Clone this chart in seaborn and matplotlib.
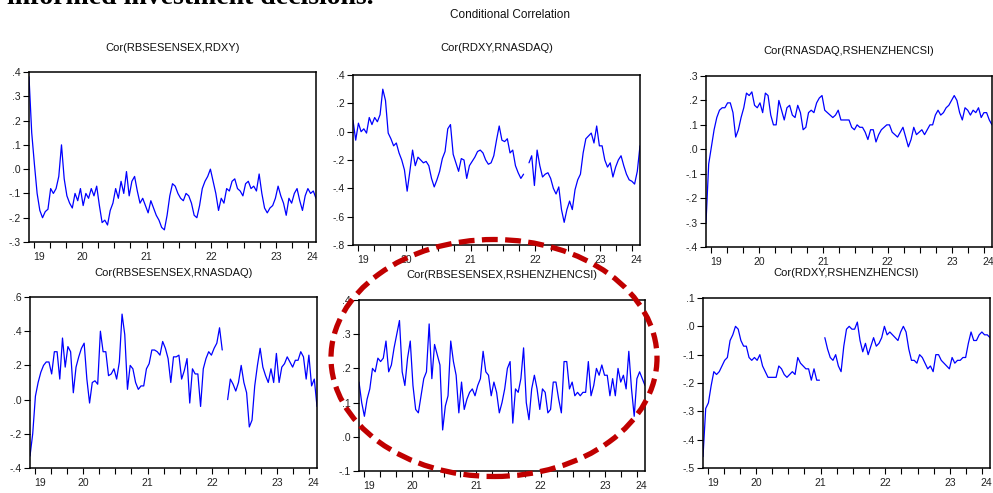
import numpy as np
import pandas as pd
import matplotlib
matplotlib.use("Agg")
import matplotlib.pyplot as plt
import seaborn as sns
from matplotlib.patches import Ellipse

# ---------------- data ----------------
X_START, X_END = 2019.68, 2024.12
N_OBS = 107

titles = ["Cor(RBSESENSEX,RDXY)", "Cor(RDXY,RNASDAQ)", "Cor(RNASDAQ,RSHENZHENCSI)",
          "Cor(RBSESENSEX,RNASDAQ)", "Cor(RBSESENSEX,RSHENZHENCSI)", "Cor(RDXY,RSHENZHENCSI)"]

cor_bse_dxy = [0.38, 0.15, 0.02, -0.10, -0.17, -0.20, -0.175, -0.165, -0.08, -0.10,
               -0.08, -0.03, 0.10, -0.04, -0.11, -0.14, -0.16, -0.10, -0.13, -0.08,
               -0.15, -0.10, -0.12, -0.08, -0.11, -0.07, -0.15, -0.22, -0.21, -0.23,
               -0.17, -0.14, -0.08, -0.12, -0.05, -0.10, -0.01, -0.11, -0.05, -0.03,
               -0.09, -0.14, -0.12, -0.15, -0.18, -0.13, -0.16, -0.19, -0.21, -0.24,
               -0.25, -0.19, -0.11, -0.06, -0.07, -0.10, -0.12, -0.13, -0.10, -0.11,
               -0.14, -0.19, -0.20, -0.15, -0.08, -0.05, -0.03, 0.00, -0.05, -0.10,
               -0.17, -0.12, -0.14, -0.08, -0.09, -0.05, -0.04, -0.08, -0.09, -0.11,
               -0.06, -0.05, -0.08, -0.07, -0.09, -0.02, -0.10, -0.16, -0.18, -0.16,
               -0.15, -0.12, -0.07, -0.11, -0.14, -0.19, -0.12, -0.14, -0.10, -0.08,
               -0.13, -0.17, -0.11, -0.08, -0.10, -0.09, -0.12]

cor_dxy_nasdaq = [0.08, -0.06, 0.06, 0.00, 0.02, -0.01, 0.10, 0.05, 0.10, 0.07,
                  0.12, 0.30, 0.22, -0.01, -0.05, -0.10, -0.08, -0.15, -0.20, -0.27,
                  -0.42, -0.28, -0.13, -0.24, -0.18, -0.20, -0.22, -0.21, -0.24, -0.33,
                  -0.39, -0.34, -0.28, -0.19, -0.14, 0.02, 0.05, -0.16, -0.22, -0.28,
                  -0.19, -0.20, -0.33, -0.24, -0.21, -0.18, -0.14, -0.13, -0.15, -0.20,
                  -0.23, -0.22, -0.17, -0.06, 0.04, -0.06, -0.07, -0.05, -0.15, -0.13,
                  -0.24, -0.29, -0.33, -0.30, np.nan, -0.22, -0.17, -0.38, -0.13, -0.24,
                  -0.32, -0.30, -0.29, -0.33, -0.40, -0.44, -0.39, -0.55, -0.64, -0.55,
                  -0.49, -0.55, -0.41, -0.34, -0.30, -0.15, -0.05, -0.03, -0.01, -0.08,
                  0.04, -0.10, -0.10, -0.20, -0.25, -0.22, -0.32, -0.25, -0.20, -0.17,
                  -0.24, -0.30, -0.34, -0.35, -0.37, -0.28, -0.10]

cor_nasdaq_szcsi = [-0.30, -0.06, 0.01, 0.08, 0.13, 0.16, 0.17, 0.17, 0.19, 0.19,
                    0.15, 0.05, 0.08, 0.13, 0.17, 0.23, 0.22, 0.235, 0.18, 0.17,
                    0.19, 0.15, 0.23, 0.22, 0.14, 0.10, 0.10, 0.20, 0.16, 0.12,
                    0.17, 0.18, 0.14, 0.13, 0.18, 0.15, 0.08, 0.09, 0.15, 0.16,
                    0.15, 0.19, 0.21, 0.22, 0.16, 0.15, 0.14, 0.13, 0.14, 0.16,
                    0.12, 0.12, 0.12, 0.12, 0.09, 0.08, 0.10, 0.09, 0.09, 0.07,
                    0.04, 0.08, 0.08, 0.03, 0.06, 0.08, 0.09, 0.10, 0.10, 0.07,
                    0.06, 0.05, 0.07, 0.09, 0.05, 0.01, 0.04, 0.09, 0.06, 0.07,
                    0.08, 0.06, 0.08, 0.10, 0.10, 0.14, 0.16, 0.14, 0.15, 0.17,
                    0.18, 0.20, 0.22, 0.20, 0.15, 0.12, 0.17, 0.16, 0.14, 0.16,
                    0.15, 0.17, 0.13, 0.15, 0.15, 0.12, 0.10]

cor_bse_nasdaq = [-0.33, -0.20, 0.02, 0.10, 0.16, 0.20, 0.22, 0.22, 0.15, 0.28,
                  0.28, 0.12, 0.36, 0.19, 0.31, 0.28, 0.04, 0.19, 0.25, 0.30,
                  0.33, 0.12, -0.02, 0.10, 0.11, 0.09, 0.40, 0.28, 0.28, 0.14,
                  0.15, 0.18, 0.12, 0.22, 0.50, 0.38, 0.06, 0.20, 0.18, 0.10,
                  0.06, 0.08, 0.08, 0.18, 0.21, 0.29, 0.29, 0.28, 0.26, 0.34,
                  0.30, 0.24, 0.10, 0.25, 0.25, 0.26, 0.12, 0.17, 0.24, -0.02,
                  0.18, 0.15, 0.15, -0.04, 0.18, 0.24, 0.28, 0.26, 0.30, 0.33,
                  0.42, 0.29, np.nan, 0.00, 0.12, 0.09, 0.05, 0.10, 0.20, 0.10,
                  0.04, -0.16, -0.12, 0.08, 0.20, 0.30, 0.19, 0.14, 0.10, 0.18,
                  0.10, 0.27, 0.10, 0.19, 0.21, 0.25, 0.22, 0.19, 0.23, 0.23,
                  0.28, 0.25, 0.12, 0.26, 0.08, 0.12, -0.04]

cor_bse_szcsi = [0.16, 0.10, 0.06, 0.11, 0.14, 0.20, 0.19, 0.23, 0.22, 0.23,
                 0.28, 0.19, 0.21, 0.26, 0.30, 0.34, 0.19, 0.15, 0.23, 0.28,
                 0.15, 0.08, 0.07, 0.12, 0.17, 0.19, 0.33, 0.17, 0.27, 0.24,
                 0.21, 0.02, 0.09, 0.12, 0.28, 0.22, 0.18, 0.07, 0.16, 0.08,
                 0.11, 0.13, 0.14, 0.12, 0.15, 0.17, 0.25, 0.19, 0.18, 0.12,
                 0.16, 0.13, 0.07, 0.10, 0.14, 0.20, 0.22, 0.04, 0.14, 0.13,
                 0.17, 0.26, 0.10, 0.05, 0.14, 0.18, 0.14, 0.08, 0.14, 0.13,
                 0.07, 0.08, 0.16, 0.16, 0.11, 0.07, 0.22, 0.22, 0.14, 0.16,
                 0.12, 0.13, 0.12, 0.13, 0.13, 0.22, 0.12, 0.15, 0.20, 0.18,
                 0.21, 0.18, 0.18, 0.12, 0.17, 0.12, 0.20, 0.16, 0.18, 0.14,
                 0.25, 0.14, 0.06, 0.17, 0.19, 0.17, 0.15]

cor_dxy_szcsi = [-0.46, -0.29, -0.27, -0.21, -0.16, -0.17, -0.16, -0.14, -0.12, -0.11,
                 -0.05, -0.03, 0.00, -0.01, -0.05, -0.07, -0.07, -0.11, -0.12, -0.11,
                 -0.12, -0.10, -0.14, -0.16, -0.18, -0.18, -0.18, -0.18, -0.14, -0.15,
                 -0.17, -0.18, -0.17, -0.16, -0.17, -0.11, -0.13, -0.14, -0.15, -0.15,
                 -0.19, -0.15, -0.19, -0.19, np.nan, -0.04, -0.08, -0.11, -0.12, -0.10,
                 -0.14, -0.16, -0.07, -0.01, 0.00, -0.01, -0.01, 0.015, -0.05, -0.09,
                 -0.06, -0.10, -0.07, -0.04, -0.07, -0.06, -0.04, 0.00, -0.03, -0.02,
                 -0.03, -0.04, -0.05, -0.02, 0.00, -0.02, -0.08, -0.12, -0.12, -0.13,
                 -0.10, -0.11, -0.13, -0.15, -0.14, -0.16, -0.10, -0.10, -0.12, -0.13,
                 -0.14, -0.15, -0.11, -0.13, -0.12, -0.12, -0.11, -0.11, -0.06, -0.02,
                 -0.05, -0.05, -0.03, -0.02, -0.03, -0.03, -0.04]

series = [cor_bse_dxy, cor_dxy_nasdaq, cor_nasdaq_szcsi,
          cor_bse_nasdaq, cor_bse_szcsi, cor_dxy_szcsi]

y_limits = [(-0.3, 0.4), (-0.8, 0.4), (-0.4, 0.3), (-0.4, 0.6), (-0.1, 0.4), (-0.5, 0.1)]
y_steps = [0.1, 0.2, 0.1, 0.2, 0.1, 0.1]

year_labels = ["19", "20", "21", "22", "23", "24"]

# ---------------- layout (pixels, from top-left) ----------------
W, H = 993, 493
boxes = [(29, 72, 316, 242), (353, 75, 640, 245), (706, 76, 992, 247),
         (30, 297, 317, 468), (359, 300, 645, 471), (703, 298, 990, 468)]
title_y = [48, 48, 51, 273, 275, 273]

sns.set_theme(style="white")
plt.rcParams["font.family"] = ["Liberation Sans", "DejaVu Sans"]

fig = plt.figure(figsize=(W / 100, H / 100), dpi=100)
fig.patch.set_facecolor("white")

dates = np.linspace(X_START, X_END, N_OBS)
quarters = np.arange(2019.75, 2024.01, 0.25)
label_pos = [(X_START + 2020) / 2, 2020.5, 2021.5, 2022.5, 2023.5, (2024 + X_END) / 2]


def fmt(v):
    s = f"{v:.1f}"
    if s.startswith("-0."):
        return "-" + s[2:]
    if s.startswith("0."):
        return s[1:]
    return s


for k, (vals, (l, t, r, b)) in enumerate(zip(series, boxes)):
    ax = fig.add_axes([l / W, 1 - b / H, (r - l) / W, (b - t) / H])
    df = pd.DataFrame({"date": dates, "value": vals})
    df["seg"] = df["value"].isna().cumsum()
    df = df.dropna()
    sns.lineplot(data=df, x="date", y="value", units="seg", estimator=None,
                 color="#0000FF", linewidth=0.9, ax=ax)
    ax.set_xlim(X_START, X_END)
    lo, hi = y_limits[k]
    ax.set_ylim(lo, hi)
    yt = np.round(np.arange(lo, hi + 1e-9, y_steps[k]), 2) + 0.0
    ax.set_yticks(yt)
    ax.set_yticklabels([fmt(abs(v) if abs(v) < 1e-9 else v) for v in yt])
    ax.xaxis.remove_overlapping_locs = False
    ax.set_xticks(quarters)
    ax.set_xticklabels([""] * len(quarters))
    ax.set_xticks(label_pos, minor=True)
    ax.set_xticklabels(year_labels, minor=True)
    ax.tick_params(axis="x", which="major", direction="out", length=4, width=0.8,
                   color="black", bottom=True)
    ax.tick_params(axis="x", which="minor", length=0, pad=7, labelsize=7.5,
                   labelcolor="#222222", bottom=True)
    ax.tick_params(axis="y", direction="out", length=4, width=0.8, color="black",
                   left=True, labelsize=7.5, labelcolor="#222222", pad=2)
    ax.set_xlabel("")
    ax.set_ylabel("")
    for sp in ax.spines.values():
        sp.set_visible(True)
        sp.set_color("black")
        sp.set_linewidth(1.1)
    fig.text(((l + r) / 2) / W, 1 - title_y[k] / H, titles[k], ha="center", va="center",
             fontsize=8, color="#111111")

fig.text(510 / W, 1 - 15 / H, "Conditional Correlation", ha="center", va="center",
         fontsize=8.5, color="#111111")

fig.text(7 / W, 1 - 4 / H, "informed investment decisions.", ha="left", va="baseline",
         fontsize=20, fontweight="bold", family=["Liberation Serif", "DejaVu Serif"],
         color="black")

ell = Ellipse((494 / W, 1 - 358 / H), 326 / W, 237 / H, transform=fig.transFigure,
              fill=False, edgecolor="#C00000", linewidth=3.8, linestyle=(0, (3.0, 1.4)))
fig.add_artist(ell)

fig.savefig("out.png", dpi=100)
